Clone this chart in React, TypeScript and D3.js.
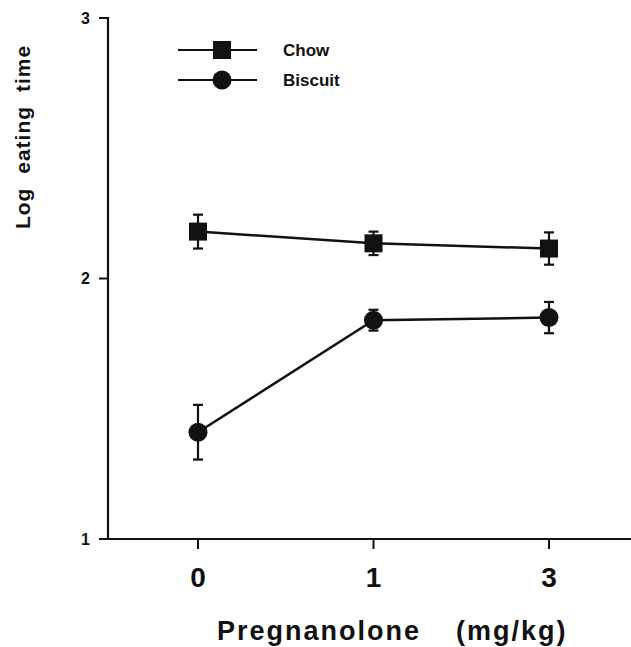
import { useEffect, useRef } from "react";
import * as d3 from "d3";

// doses on the x axis (categorical)
const doses = ["0", "1", "3"];
const yTicks = [1, 2, 3];

// series means and SEM
const chowMeans = [2.18, 2.135, 2.115];
const chowErr = [0.065, 0.045, 0.062];
const biscuitMeans = [1.41, 1.84, 1.85];
const biscuitErr = [0.105, 0.04, 0.06];

const seriesNames = ["Chow", "Biscuit"];

const W = 631;
const H = 647;

export default function App() {
  const ref = useRef<SVGSVGElement | null>(null);

  useEffect(() => {
    const svg = d3.select(ref.current);
    svg.selectAll("*").remove();

    const font = "'Liberation Sans', Arial, sans-serif";
    const ink = "#111";

    const x = d3.scalePoint<string>().domain(doses).range([198, 549]);
    const y = d3.scaleLinear().domain([1, 3]).range([539, 18]);

    // y axis
    const yAx = svg.append("g").attr("transform", "translate(108,0)");
    yAx.append("line")
      .attr("x1", 0).attr("x2", 0)
      .attr("y1", y(3) - 1).attr("y2", y(1) + 1)
      .attr("stroke", ink).attr("stroke-width", 2.2);
    yAx.selectAll(".yt").data(yTicks).enter().append("line")
      .attr("x1", -9).attr("x2", 0)
      .attr("y1", (d) => y(d)).attr("y2", (d) => y(d))
      .attr("stroke", ink).attr("stroke-width", 2);
    yAx.selectAll(".yl").data(yTicks).enter().append("text")
      .attr("x", -18).attr("y", (d) => y(d))
      .attr("dy", "0.36em")
      .attr("text-anchor", "end")
      .attr("font-family", font).attr("font-weight", "bold")
      .attr("font-size", 16).attr("fill", ink)
      .text((d) => d);

    // x axis
    const xAx = svg.append("g").attr("transform", `translate(0,${y(1)})`);
    xAx.append("line")
      .attr("x1", 107).attr("x2", W)
      .attr("y1", 0).attr("y2", 0)
      .attr("stroke", ink).attr("stroke-width", 2.2);
    xAx.selectAll(".xt").data(doses).enter().append("line")
      .attr("x1", (d) => x(d)!).attr("x2", (d) => x(d)!)
      .attr("y1", 0).attr("y2", 10)
      .attr("stroke", ink).attr("stroke-width", 2);
    xAx.selectAll(".xl").data(doses).enter().append("text")
      .attr("x", (d) => x(d)!).attr("y", 48)
      .attr("text-anchor", "middle")
      .attr("font-family", font).attr("font-weight", "bold")
      .attr("font-size", 28).attr("fill", ink)
      .text((d) => d);

    // axis titles
    svg.append("text")
      .attr("x", 217).attr("y", 640)
      .attr("font-family", font).attr("font-weight", "bold")
      .attr("font-size", 27).attr("letter-spacing", 2).attr("fill", ink)
      .text("Pregnanolone");
    svg.append("text")
      .attr("x", 456).attr("y", 640)
      .attr("font-family", font).attr("font-weight", "bold")
      .attr("font-size", 27).attr("letter-spacing", 2).attr("fill", ink)
      .text("(mg/kg)");

    svg.append("text")
      .attr("transform", "translate(30,137) rotate(-90)")
      .attr("text-anchor", "middle")
      .attr("font-family", font).attr("font-weight", "bold")
      .attr("font-size", 21).attr("letter-spacing", 1).attr("word-spacing", 7)
      .attr("fill", ink)
      .text("Log eating time");

    const line = d3.line<number>()
      .x((_, i) => x(doses[i])!)
      .y((d) => y(d));

    const drawSeries = (means: number[], errs: number[], shape: string) => {
      const g = svg.append("g");
      g.append("path")
        .attr("d", line(means))
        .attr("fill", "none").attr("stroke", ink).attr("stroke-width", 2.5);
      means.forEach((m, i) => {
        const cx = x(doses[i])!;
        const top = y(m + errs[i]);
        const bot = y(m - errs[i]);
        g.append("line")
          .attr("x1", cx).attr("x2", cx).attr("y1", top).attr("y2", bot)
          .attr("stroke", ink).attr("stroke-width", 2.2);
        [top, bot].forEach((yy) => {
          g.append("line")
            .attr("x1", cx - 5).attr("x2", cx + 5).attr("y1", yy).attr("y2", yy)
            .attr("stroke", ink).attr("stroke-width", 2.2);
        });
        if (shape === "square") {
          g.append("rect")
            .attr("x", cx - 9).attr("y", y(m) - 9)
            .attr("width", 18).attr("height", 18).attr("fill", ink);
        } else {
          g.append("circle")
            .attr("cx", cx).attr("cy", y(m)).attr("r", 9.5).attr("fill", ink);
        }
      });
    };

    drawSeries(chowMeans, chowErr, "square");
    drawSeries(biscuitMeans, biscuitErr, "circle");

    // legend
    const legend = svg.append("g");
    seriesNames.forEach((name, i) => {
      const ly = 50 + i * 30;
      legend.append("line")
        .attr("x1", 178).attr("x2", 257).attr("y1", ly).attr("y2", ly)
        .attr("stroke", ink).attr("stroke-width", 2.2);
      if (i === 0) {
        legend.append("rect")
          .attr("x", 213).attr("y", ly - 9).attr("width", 18).attr("height", 18)
          .attr("fill", ink);
      } else {
        legend.append("circle")
          .attr("cx", 222).attr("cy", ly).attr("r", 9.5).attr("fill", ink);
      }
      legend.append("text")
        .attr("x", 283).attr("y", ly).attr("dy", "0.36em")
        .attr("font-family", font).attr("font-weight", "bold")
        .attr("font-size", 17).attr("fill", ink)
        .text(name);
    });
  }, []);

  return (
    <svg
      ref={ref}
      width={W}
      height={H}
      style={{ position: "absolute", left: 0, top: 0, background: "#fff" }}
    />
  );
}
